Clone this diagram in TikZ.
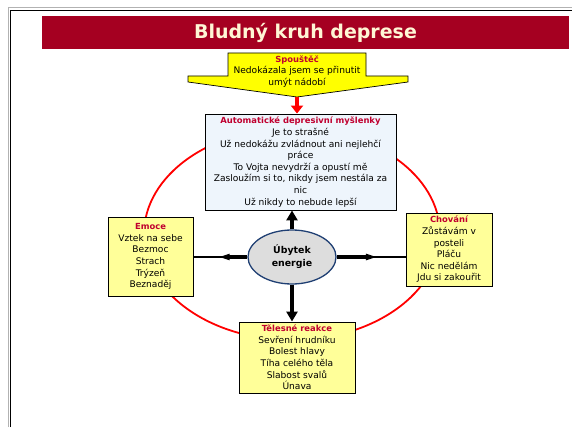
\documentclass[tikz,border=0pt]{standalone}
\usepackage{fontspec}
\setmainfont{DejaVu Sans}
\usetikzlibrary{shapes.geometric,arrows.meta,shadows,calc}

\definecolor{banner}{HTML}{A50021}
\definecolor{bannertext}{HTML}{FFF6D5}
\definecolor{hdr}{HTML}{C0002F}
\definecolor{note}{HTML}{FFFF99}
\definecolor{thought}{HTML}{EEF5FC}
\definecolor{core}{HTML}{DDDDDD}
\definecolor{coreline}{HTML}{1F3F73}
\definecolor{ring}{HTML}{FF0000}
\definecolor{trigger}{HTML}{FFFF00}

\newcommand{\boxhead}[1]{\textcolor{hdr}{\bfseries\fontsize{8.4}{11.6}\selectfont #1}}

\tikzset{
  txt/.style={font=\fontsize{9.1}{11.6}\selectfont, align=center},
  card/.style={txt, draw=black, line width=0.9pt, inner sep=0pt,
    drop shadow={shadow xshift=1.2pt, shadow yshift=-1.2pt, fill=black!80, opacity=1}},
  notecard/.style={card, fill=note},
  thoughtcard/.style={card, fill=thought},
  corenode/.style={ellipse, draw=coreline, fill=core, line width=1.3pt, inner sep=0pt,
    align=center, font=\bfseries\fontsize{9.4}{13}\selectfont},
  vlink/.style={line width=3.6pt, -{Triangle[width=11pt,length=10pt]}},
  hline/.style={line width=2pt},
  hlink/.style={line width=3.4pt, -{Triangle[width=5.5pt,length=12pt]}},
  cycleline/.style={draw=ring, line width=1.8pt},
  redlink/.style={draw=ring, line width=4pt, -{Triangle[width=12pt,length=8pt]}, color=ring},
}

\begin{document}
\begin{tikzpicture}[x=1pt,y=-1pt]
\useasboundingbox (0,0) rectangle (572,430);
\fill[white] (0,0) rectangle (572,430);

% slide frame
\draw[gray!60, line width=1pt] (8,427) -- (8,8) -- (572,8);
\draw[black, line width=1.8pt] (10.5,427) -- (10.5,10.5) -- (572,10.5);

% title banner
\node[fill=banner, minimum width=527pt, minimum height=33pt, inner sep=0pt,
      text=bannertext, font=\bfseries\fontsize{19}{19}\selectfont] (title) at (305.5,32.5) {Bludný kruh deprese};

% the vicious circle
\draw[cycleline] (292,234) ellipse [x radius=148pt, y radius=106pt];

% trigger callout
\coordinate (ctip) at (297,97);
\path[draw=black, fill=trigger, line width=0.7pt]
  (228,53) -- (366,53) -- (366,76) -- (408,76) -- (408,82) -- (ctip)
  -- (188,82) -- (188,76) -- (228,76) -- cycle;
\node[txt] (trig) at (297,71.5) {\boxhead{Spouštěč}\\Nedokázala jsem se přinutit\\umýt nádobí};

% boxes
\node[thoughtcard, minimum width=191pt, minimum height=96pt] (thoughts) at (300.5,162)
  {\boxhead{Automatické depresivní myšlenky}\\Je to strašné\\Už nedokážu zvládnout ani nejlehčí\\práce\\To Vojta nevydrží a opustí mě\\Zasloužím si to, nikdy jsem nestála za\\nic\\Už nikdy to nebude lepší};

\node[notecard, minimum width=85pt, minimum height=79pt] (emoce) at (150.5,256.5)
  {\boxhead{Emoce}\\Vztek na sebe\\Bezmoc\\Strach\\Trýzeň\\Beznaděj};

\node[notecard, minimum width=86pt, minimum height=73pt] (chovani) at (449,249.5)
  {\boxhead{Chování}\\Zůstávám v\\posteli\\Pláču\\Nic nedělám\\Jdu si zakouřit};

\node[notecard, minimum width=116pt, minimum height=71pt] (telesne) at (297,357.5)
  {\boxhead{Tělesné reakce}\\Sevření hrudníku\\Bolest hlavy\\Tíha celého těla\\Slabost svalů\\Únava};

\node[corenode, minimum width=88pt, minimum height=54pt] (ubytek) at (292,257) {Úbytek\\energie};

% trigger arrow
\draw[redlink] (ctip) -- (ctip |- thoughts.north);

% arrows from the core
\draw[vlink] (ubytek.north) -- (ubytek.north |- thoughts.south);
\draw[vlink] (ubytek.south) -- (ubytek.south |- telesne.north);
\draw[hline] (ubytek.west) -- (emoce.east |- ubytek.west);
\draw[hlink] (ubytek.west) -- ($(ubytek.west)!0.55!(emoce.east |- ubytek.west)$);
\draw[hline] (ubytek.east) -- (chovani.west |- ubytek.east);
\draw[hlink] (ubytek.east) -- ($(ubytek.east)!0.6!(chovani.west |- ubytek.east)$);
\end{tikzpicture}
\end{document}
